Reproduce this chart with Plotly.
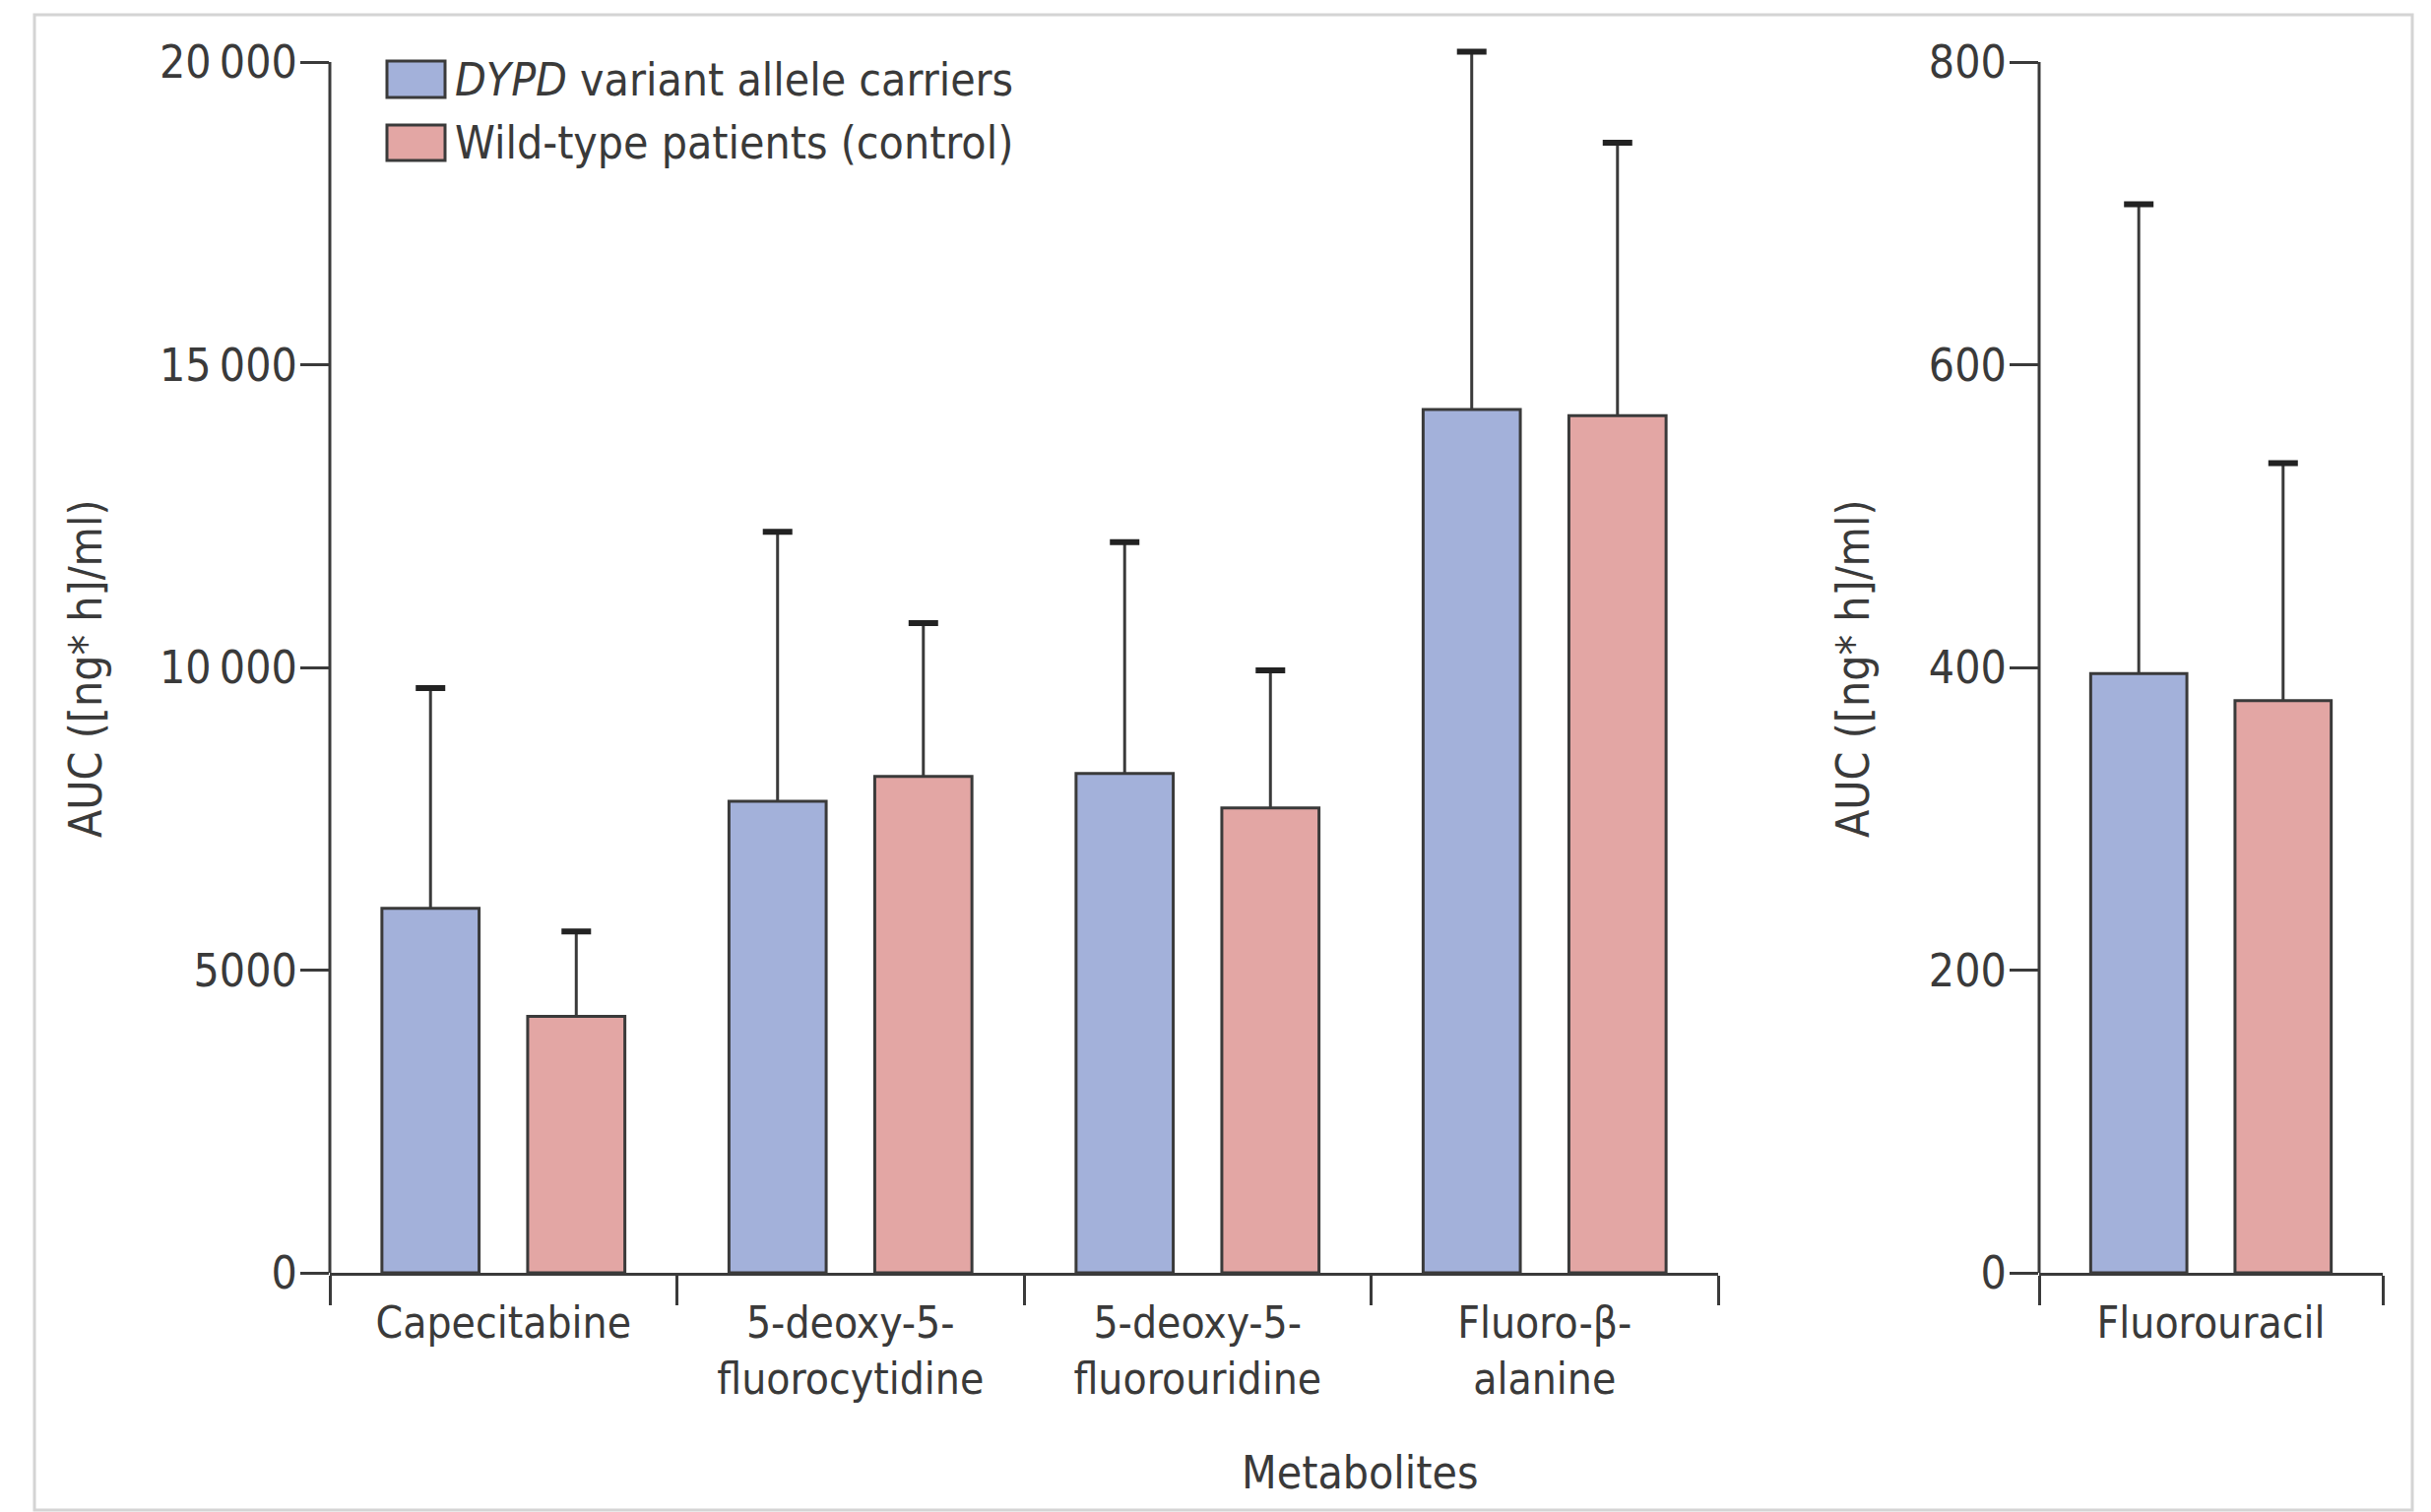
import plotly.graph_objects as go

# ---- data ----
categories = ["Capecitabine", "5-deoxy-5-<br>fluorocytidine", "5-deoxy-5-<br>fluorouridine", "Fluoro-β-<br>alanine"]
dypd_mean = [6020, 7790, 8250, 14260]
dypd_sd = [3640, 4450, 3820, 5910]
wt_mean = [4235, 8200, 7680, 14160]
wt_sd = [1405, 2530, 2270, 4505]

fu_category = ["Fluorouracil"]
fu_dypd_mean = [396]
fu_dypd_sd = [310]
fu_wt_mean = [378]
fu_wt_sd = [157]

left_tickvals = [0, 5000, 10000, 15000, 20000]
left_ticktext = ["0", "5000", "10\u2009000", "15\u2009000", "20\u2009000"]
right_tickvals = [0, 200, 400, 600, 800]
right_ticktext = ["0", "200", "400", "600", "800"]
left_max = 20000
right_max = 800

series_names = ["<i>DYPD</i> variant allele carriers", "Wild-type patients (control)"]

# ---- style ----
W, H = 2469, 1536
OFF = 8  # page body margin
FONT = "DejaVu Sans Condensed, Liberation Sans Narrow, Lato, sans-serif"
TXT = "#3a3a3a"
LINE = "#3a3a3a"
BLUE = "#a3b1da"
RED = "#e3a6a4"
BAR_W = 0.28
OFF_A = -0.35
OFF_B = 0.07
HEAD = 1.025  # headroom so the tallest cap is not clipped


def px(x):
    return (x - OFF) / W


def py(y):
    return 1 - (y - OFF) / H


fig = go.Figure()


def add_pair(xs, m1, s1, m2, s2, xa, ya):
    for means, sds, col, off in ((m1, s1, BLUE, OFF_A), (m2, s2, RED, OFF_B)):
        fig.add_trace(go.Bar(
            x=xs, y=means, width=BAR_W, offset=off, xaxis=xa, yaxis=ya,
            marker=dict(color=col, line=dict(color=LINE, width=3)),
            error_y=dict(type="data", symmetric=False, array=sds,
                         arrayminus=[0] * len(sds), thickness=3, width=0, color=LINE),
            cliponaxis=False, showlegend=False, hoverinfo="skip"))
        tops = [m + s for m, s in zip(means, sds)]
        fig.add_trace(go.Bar(
            x=xs, y=tops, width=BAR_W, offset=off, xaxis=xa, yaxis=ya,
            marker=dict(color="rgba(0,0,0,0)", line=dict(width=0)),
            error_y=dict(type="data", array=[0] * len(tops), thickness=6, width=15, color="#222222"),
            cliponaxis=False, showlegend=False, hoverinfo="skip"))


add_pair(categories, dypd_mean, dypd_sd, wt_mean, wt_sd, "x", "y")
add_pair(fu_category, fu_dypd_mean, fu_dypd_sd, fu_wt_mean, fu_wt_sd, "x2", "y2")

axis_common = dict(linecolor=LINE, linewidth=3, ticks="outside",
                   tickcolor=LINE, tickwidth=2.5, showgrid=False, zeroline=False,
                   automargin=False, fixedrange=True)
yfont = dict(family=FONT, size=46, color=TXT)
xfont = dict(family=FONT, size=44, color=TXT)

y0_px, y20k_px = 1293, 63
ytop_px = y0_px - (y0_px - y20k_px) * HEAD
ydom = [py(y0_px), py(ytop_px)]

fig.update_layout(
    template="none",
    width=W, height=H, margin=dict(l=0, r=0, t=0, b=0, pad=0),
    paper_bgcolor="white", plot_bgcolor="white", barmode="overlay",
    font=dict(family=FONT, color=TXT),
    xaxis=dict(domain=[px(335), px(1745)], type="category", range=[-0.5, 3.5], showline=True,
               tickson="boundaries", ticklen=30, anchor="y", tickfont=xfont,
               ticklabelstandoff=10, **axis_common),
    yaxis=dict(domain=ydom, range=[0, left_max * HEAD], tickvals=left_tickvals, ticktext=left_ticktext,
               showline=False, ticklen=29, anchor="x", tickfont=yfont, ticklabelstandoff=-6, **axis_common),
    xaxis2=dict(domain=[px(2071), px(2420)], type="category", range=[-0.5, 0.5], showline=True,
                tickson="boundaries", ticklen=30, anchor="y2", tickfont=xfont,
                ticklabelstandoff=10, **axis_common),
    yaxis2=dict(domain=ydom, range=[0, right_max * HEAD], tickvals=right_tickvals, ticktext=right_ticktext,
                showline=False, ticklen=29, anchor="x2", tickfont=yfont, ticklabelstandoff=-6, **axis_common),
)

# y axis lines that stop at the top tick
for xd, yr, top in (("x domain", "y", left_max), ("x2 domain", "y2", right_max)):
    fig.add_shape(type="line", xref=xd, yref=yr, x0=0, x1=0, y0=0, y1=top,
                  line=dict(color=LINE, width=3), layer="above")

# axis titles
ann_font = dict(family=FONT, size=46, color=TXT)
fig.add_annotation(text="AUC ([ng* h]/ml)", x=px(87), y=py(679), xref="paper", yref="paper",
                   textangle=-90, showarrow=False, font=ann_font, xanchor="center", yanchor="middle")
fig.add_annotation(text="AUC ([ng* h]/ml)", x=px(1882), y=py(679), xref="paper", yref="paper",
                   textangle=-90, showarrow=False, font=ann_font, xanchor="center", yanchor="middle")
fig.add_annotation(text="Metabolites", x=px(1381), y=py(1496), xref="paper", yref="paper",
                   showarrow=False, font=ann_font, xanchor="center", yanchor="middle")

# legend (drawn manually)
leg_font = dict(family=FONT, size=46, color=TXT)
leg_rows = [(62, 99), (127, 163)]
for (ya, yb), col, name in zip(leg_rows, (BLUE, RED), series_names):
    fig.add_shape(type="rect", xref="paper", yref="paper", x0=px(393), x1=px(452),
                  y0=py(yb), y1=py(ya), fillcolor=col, line=dict(color=LINE, width=3))
    fig.add_annotation(text=name, x=px(460), y=py((ya + yb) / 2), xref="paper", yref="paper",
                       showarrow=False, font=leg_font, xanchor="left", yanchor="middle")

# outer frame
fig.add_shape(type="rect", xref="paper", yref="paper", x0=px(35), x1=px(2450), y0=py(1534), y1=py(15),
              line=dict(color="#d4d4d4", width=3), fillcolor="rgba(0,0,0,0)", layer="below")

fig.write_html("out.html")
